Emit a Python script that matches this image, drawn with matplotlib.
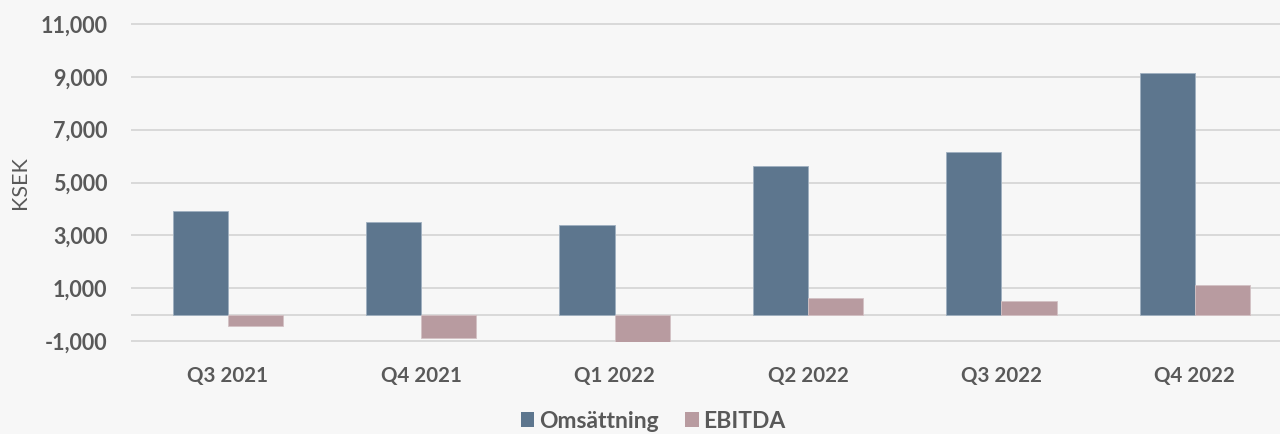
import matplotlib
matplotlib.use("Agg")
import matplotlib.pyplot as plt
import numpy as np
from matplotlib.ticker import FuncFormatter, FixedLocator
from matplotlib.patches import Patch

categories = ["Q3 2021", "Q4 2021", "Q1 2022", "Q2 2022", "Q3 2022", "Q4 2022"]
omsattning = [3930, 3520, 3390, 5620, 6150, 9130]
ebitda = [-450, -880, -1030, 630, 515, 1120]
yticks = [-1000, 1000, 3000, 5000, 7000, 9000, 11000]

plt.rcParams['font.family'] = ['Lato', 'DejaVu Sans']
text_color = "#595959"
bg = "#f7f7f7"
c_oms = "#5d768e"
c_ebit = "#b89ba0"
grid_c = "#d9d9d9"

W, H = 1280, 434
fig = plt.figure(figsize=(W / 100, H / 100), dpi=100, facecolor=bg)
left = 131 / W
bottom = (H - 342.3) / H
top = (H - 22.7) / H
ax = fig.add_axes([left, bottom, 1 - left, top - bottom])
ax.set_facecolor(bg)

x = np.arange(len(categories))
bw = 0.285
ax.bar(x - bw / 2, omsattning, bw, color=c_oms, edgecolor="#9fb0c0", linewidth=0.6, zorder=3)
ax.bar(x + bw / 2, ebitda, bw, color=c_ebit, edgecolor="#d3c1c4", linewidth=0.6, zorder=3)

ax.set_xlim(-0.5, 5.44)
ax.set_ylim(-1050, 11050)
ax.yaxis.set_major_locator(FixedLocator(yticks))
ax.yaxis.set_major_formatter(FuncFormatter(lambda v, p: f"{int(v):,}"))
ax.grid(axis="y", color=grid_c, linewidth=1.4, zorder=0)
ax.axhline(0, color=grid_c, linewidth=1.4, zorder=1)
ax.set_axisbelow(True)

ax.set_xticks(x)
ax.set_xticklabels(categories)
for s in ax.spines.values():
    s.set_visible(False)
ax.tick_params(axis="both", length=0, colors=text_color)
ax.tick_params(axis="y", pad=17, labelsize=15.5)
ax.tick_params(axis="x", pad=17, labelsize=14.8)
for lbl in ax.get_yticklabels() + ax.get_xticklabels():
    lbl.set_fontweight("bold")
    lbl.set_color(text_color)

fig.text(20 / W, 1 - 183 / H, "KSEK", rotation=90, ha="center", va="center",
         fontsize=15.5, color=text_color)

handles = [Patch(facecolor=c_oms, label="Omsättning"), Patch(facecolor=c_ebit, label="EBITDA")]
leg = fig.legend(handles=handles, loc="center", bbox_to_anchor=(653 / W, 1 - 421 / H), ncol=2,
                 frameon=False, prop={"weight": "bold", "size": 16.5}, handlelength=0.6,
                 handleheight=0.6, handletextpad=0.2, columnspacing=1.15, labelcolor=text_color)

fig.savefig("out.png", dpi=100, facecolor=bg)
